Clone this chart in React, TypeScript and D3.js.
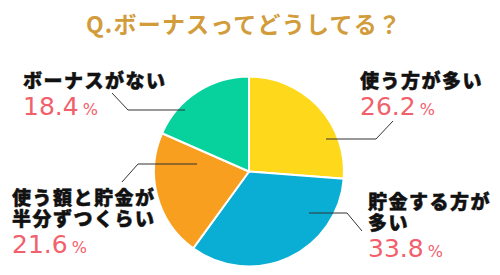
import { useRef, useEffect } from "react";
import * as d3 from "d3";

const title = "Q.ボーナスってどうしてる？";
const categories = ["使う方が多い", "貯金する方が多い", "使う額と貯金が半分ずつくらい", "ボーナスがない"];
const labelLines = [["使う方が多い"], ["貯金する方が", "多い"], ["使う額と貯金が", "半分ずつくらい"], ["ボーナスがない"]];
const values = [26.2, 33.8, 21.6, 18.4];
const colors = ["#FED91B", "#0AADD3", "#F99F1F", "#07D29E"];

// label placement: text origin + leader polyline (relative to pie centre)
const layout = [
  { x: 360, y: 79, leader: [[77, -32.5], [127, -32.5], [144, -50.5]] },
  { x: 368, y: 200, leader: [[60, 41.5], [98, 41.5], [113, 59.5]] },
  { x: 12, y: 196, leader: [[-52, -7.5], [-111, -7.5], [-127, 10.5]] },
  { x: 23, y: 78.5, leader: [[-64, -61.5], [-121, -61.5], [-137, -78.5]] },
];

const W = 500, H = 275;
const cx = 249, cy = 171.5, R = 95;
const lineGap = 21;

export default function App() {
  const ref = useRef<SVGSVGElement>(null);

  useEffect(() => {
    if (!ref.current) return;
    const svg = d3.select(ref.current);
    svg.selectAll("*").remove();

    svg.append("text")
      .attr("x", 244).attr("y", 23)
      .attr("text-anchor", "middle").attr("dominant-baseline", "central")
      .attr("font-family", "'Noto Sans CJK JP', sans-serif")
      .attr("font-weight", 700).attr("font-size", 23)
      .attr("letter-spacing", 1.2)
      .attr("fill", "#D29C3B")
      .text(title);

    const pie = d3.pie<number>().sort(null).value(d => d);
    const arc = d3.arc<d3.PieArcDatum<number>>().innerRadius(0).outerRadius(R);
    const g = svg.append("g").attr("transform", `translate(${cx},${cy})`);
    g.selectAll("path").data(pie(values)).enter().append("path")
      .attr("d", arc)
      .attr("fill", (_, i) => colors[i])
      .attr("stroke", "#fff").attr("stroke-width", 2)
      .attr("aria-label", (_, i) => categories[i]);

    const line = d3.line();
    layout.forEach((l, i) => {
      g.append("path")
        .attr("d", line(l.leader as [number, number][]))
        .attr("fill", "none").attr("stroke", "#333").attr("stroke-width", 1);

      const lines = labelLines[i];
      const lt = svg.append("text")
        .attr("x", l.x).attr("y", l.y)
        .attr("dominant-baseline", "central")
        .attr("font-family", "'Noto Sans CJK JP', sans-serif")
        .attr("font-weight", 900).attr("font-size", 19)
        .attr("letter-spacing", 1.5)
        .attr("fill", "#111").attr("stroke", "#111").attr("stroke-width", 0.5);
      lines.forEach((t, j) => {
        lt.append("tspan")
          .attr("x", l.x).attr("y", l.y + j * lineGap)
          .text(t);
      });
      const ny = l.y + (lines.length - 1) * lineGap + 36;
      const tx = svg.append("text")
        .attr("x", l.x).attr("y", ny)
        .attr("font-family", "'DejaVu Sans', sans-serif")
        .attr("fill", "#F2606B");
      tx.append("tspan").attr("font-size", 25).text(d3.format(".1f")(values[i]));
      tx.append("tspan").attr("font-size", 16).attr("dx", 4).text("%");
    });
  }, []);

  return (
    <svg ref={ref} width={W} height={H}
      style={{ position: "absolute", left: 0, top: 0, background: "#fff" }} />
  );
}
